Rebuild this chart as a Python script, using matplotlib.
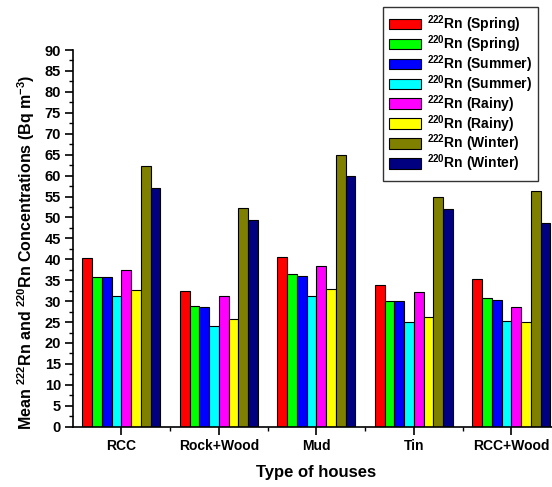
import numpy as np
import matplotlib
matplotlib.use("Agg")
import matplotlib.pyplot as plt
from matplotlib.ticker import MultipleLocator

# ------------------------------------------------------------------ data
houses = ["RCC", "Rock+Wood", "Mud", "Tin", "RCC+Wood"]
rn222_spring = [40.4, 32.5, 40.6, 33.8, 35.3]
rn220_spring = [35.7, 28.8, 36.4, 30.0, 30.7]
rn222_summer = [35.8, 28.6, 35.9, 30.1, 30.3]
rn220_summer = [31.2, 24.0, 31.3, 24.9, 25.3]
rn222_rainy = [37.4, 31.2, 38.4, 32.1, 28.6]
rn220_rainy = [32.6, 25.8, 32.8, 26.2, 24.9]
rn222_winter = [62.2, 52.3, 64.9, 54.8, 56.4]
rn220_winter = [57.0, 49.3, 60.0, 51.9, 48.7]

series = [rn222_spring, rn220_spring, rn222_summer, rn220_summer,
          rn222_rainy, rn220_rainy, rn222_winter, rn220_winter]
labels = ["$^{222}$Rn (Spring)", "$^{220}$Rn (Spring)",
          "$^{222}$Rn (Summer)", "$^{220}$Rn (Summer)",
          "$^{222}$Rn (Rainy)", "$^{220}$Rn (Rainy)",
          "$^{222}$Rn (Winter)", "$^{220}$Rn (Winter)"]
colors = ["#FF0000", "#00FF00", "#0000FF", "#00FFFF",
          "#FF00FF", "#FFFF00", "#808000", "#000080"]

# ------------------------------------------------------------------ plot
plt.rcParams.update({
    "font.family": "Liberation Sans",
    "font.weight": "bold",
    "mathtext.default": "regular",
})

fig = plt.figure(figsize=(5.52, 4.87), dpi=100)
ax = fig.add_axes([0.1317, 0.1238, 0.883, 0.7735])

x = np.arange(1, len(houses) + 1)
w = 0.1
for k, (vals, lab, col) in enumerate(zip(series, labels, colors)):
    ax.bar(x + (k - 3.5) * w, vals, width=w, color=col, edgecolor="black",
           linewidth=0.8, label=lab)

ax.set_xlim(0.5, 5.5)
ax.set_ylim(0, 90)
ax.set_xticks(x, houses)
ax.set_xticks(x + 0.5, minor=True)
ax.yaxis.set_major_locator(MultipleLocator(5))
ax.yaxis.set_minor_locator(MultipleLocator(2.5))

for s in ["top", "right"]:
    ax.spines[s].set_visible(False)
for s in ["left", "bottom"]:
    ax.spines[s].set_linewidth(1.2)

ax.tick_params(axis="both", which="major", width=1.2, length=5.5, direction="out")
ax.tick_params(axis="both", which="minor", width=1.0, length=3, direction="out")
ax.tick_params(axis="y", which="major", labelsize=10.5, pad=3)
ax.tick_params(axis="x", which="major", labelsize=10, pad=3)
for t in ax.get_xticklabels() + ax.get_yticklabels():
    t.set_fontweight("bold")

ax.set_xlabel("Type of houses", fontsize=12, fontweight="bold")
ax.set_ylabel("Mean $^{222}$Rn and $^{220}$Rn Concentrations (Bq m$^{-3}$)",
              fontsize=11.5, fontweight="bold")
ax.xaxis.set_label_coords(0.5, -0.101)
ax.yaxis.set_label_coords(-0.073, 0.464)

leg = ax.legend(loc="upper left", bbox_to_anchor=(383 / 552, 1 - 7 / 487),
                bbox_transform=fig.transFigure,
                prop={"weight": "bold", "size": 10}, frameon=True, fancybox=False,
                handlelength=2.3, handleheight=0.8, labelspacing=-0.12,
                borderpad=0.45, handletextpad=0.4, borderaxespad=0)
leg.get_frame().set_edgecolor("black")
leg.get_frame().set_linewidth(1.0)
leg.set_zorder(5)

fig.savefig("out.png", dpi=100)
